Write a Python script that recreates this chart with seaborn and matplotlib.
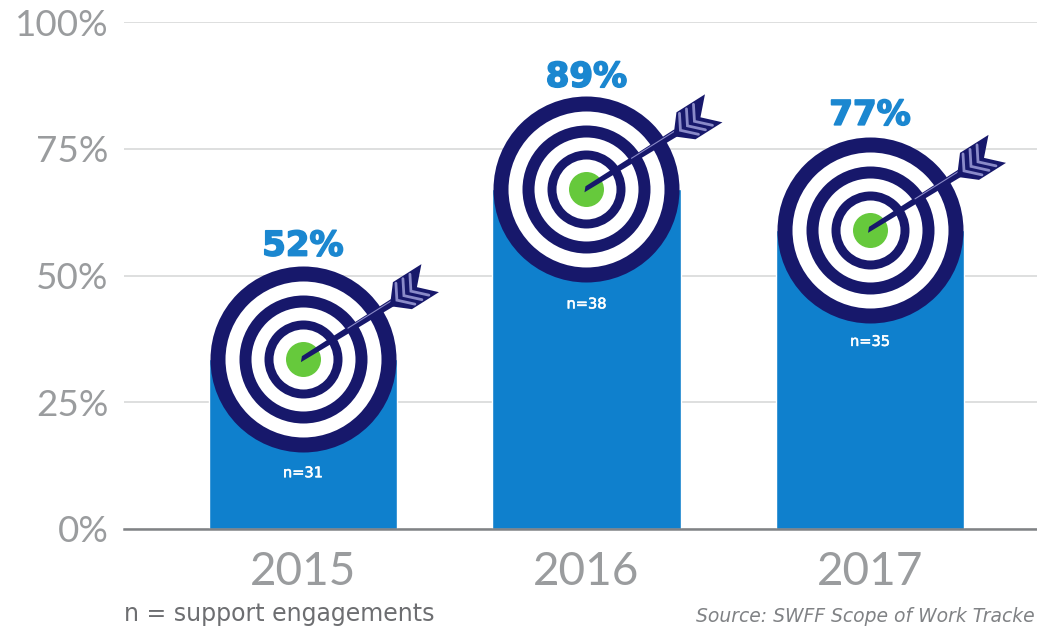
import matplotlib
matplotlib.use("Agg")
import matplotlib.pyplot as plt
import matplotlib.patheffects as pe
import seaborn as sns
from matplotlib.patches import Polygon
from matplotlib.transforms import ScaledTranslation

# Chart values
years = ["2015", "2016", "2017"]
percent_labels = ["52%", "89%", "77%"]
bar_heights = [33.5, 67, 59]
sample_labels = ["n=31", "n=38", "n=35"]
sample_y = [11.1, 44.4, 37.0]
label_y = [55.8, 89.1, 81.6]
yticks = [0, 25, 50, 75, 100]
ytick_labels = ["0%", "25%", "50%", "75%", "100%"]

BLUE = "#0f80cd"
NAVY = "#17186b"
GREEN = "#66c93c"
GRAY = "#9a9c9e"

sns.set_theme(style="white")
plt.rcParams["font.family"] = ["Lato", "DejaVu Sans"]

fig = plt.figure(figsize=(10.37, 6.30), dpi=100)
ax = fig.add_axes([124 / 1037, 1 - 529 / 630, 913 / 1037, 507 / 630])

sns.barplot(x=years, y=bar_heights, color=BLUE, width=0.665, saturation=1, ax=ax, zorder=2)

ax.set_xlim(-0.631, 2.589)
ax.set_ylim(0, 100)
ax.set_yticks(yticks)
ax.set_yticklabels(ytick_labels, fontsize=26.5, color=GRAY)
ax.set_xticks(range(3))
ax.set_xticklabels(years, fontsize=33, color=GRAY)
ax.tick_params(axis="y", length=0, pad=11)
ax.tick_params(axis="x", length=0, pad=16)
ax.set_xlabel("")
ax.set_ylabel("")
ax.grid(axis="y", color="#d5d6d6", lw=1.1, zorder=0)
ax.set_axisbelow(True)
sns.despine(ax=ax, left=True, top=True, right=True)
ax.spines["bottom"].set_color("#808285")
ax.spines["bottom"].set_linewidth(1.8)
ax.spines["bottom"].set_zorder(5)


def px(r):
    # marker size for a circle of radius r pixels
    return (2 * r * 0.72) ** 2


def draw_target(i, y):
    rings = [(93, NAVY), (78, "white"), (64, NAVY), (52, "white"),
             (39, NAVY), (30, "white"), (17.5, GREEN)]
    for k, (r, c) in enumerate(rings):
        ax.scatter([i], [y], s=px(r), color=c, linewidths=0, zorder=3 + k * 0.01, clip_on=False)

    # arrow in pixels relative to the target centre
    tr = fig.dpi_scale_trans + ScaledTranslation(i, y, ax.transData)

    def pts(*xy):
        return [(a / 100, b / 100) for a, b in xy]

    ax.add_patch(Polygon(pts((-2, -3), (91, 53), (88, 60), (-1, 3)), closed=True,
                         fc=NAVY, ec="none", transform=tr, zorder=4))
    ax.plot(*zip(*pts((45, 31), (88, 58))), color="#8a8ac8", lw=0.8, transform=tr, zorder=4.05)
    ax.add_patch(Polygon(pts((90, 77), (118.5, 95), (114, 72), (136, 67), (109, 50), (87, 53)),
                         closed=True, fc=NAVY, ec="none", transform=tr, zorder=4.1, clip_on=False))
    # stripes on the feathers
    for a, b in [(94, 59), (101, 63.5), (108, 68)]:
        xs, ys = zip(*pts((a - 1, b + 17), (a, b), (a + 18, b - 4)))
        ax.plot(xs, ys, color="#8a8ac8", lw=2, transform=tr, zorder=4.2, solid_joinstyle="miter")


for i in range(3):
    draw_target(i, bar_heights[i])
    ax.text(i, label_y[i], percent_labels[i], ha="center", va="center", fontsize=24.5,
            color="#1b87d0", fontweight="bold", family=["DejaVu Sans"], zorder=6,
            path_effects=[pe.withStroke(linewidth=1.2, foreground="#1b87d0")])
    ax.text(i, sample_y[i], sample_labels[i], ha="center", va="center", fontsize=10.5,
            color="white", family=["DejaVu Sans"], zorder=6,
            path_effects=[pe.withStroke(linewidth=0.4, foreground="white")])

fig.text(124 / 1037, 1 - 614 / 630, "n = support engagements", fontsize=17, color="#6d6e71",
         family=["DejaVu Sans"], ha="left", va="center")
# the reference cuts this line off at the page edge, after "Tracke"
fig.text(1035 / 1037, 1 - 616 / 630, "Source: SWFF Scope of Work Tracke", fontsize=13.5,
         color="#808285", style="italic", family=["DejaVu Sans"], ha="right", va="center")

fig.savefig("out.png", dpi=100)
